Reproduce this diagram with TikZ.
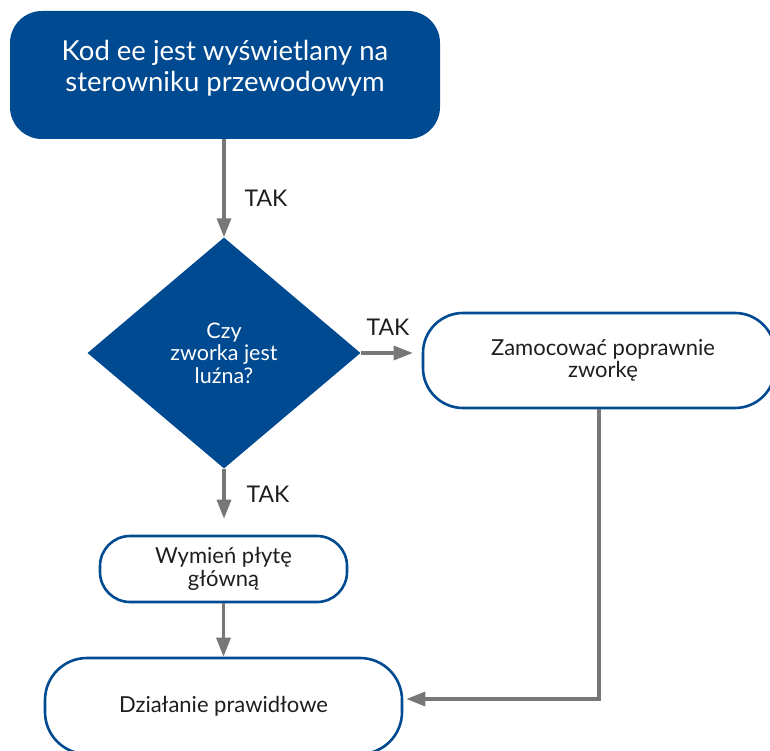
\documentclass[tikz,border=0pt]{standalone}
\usepackage{fontspec}
\setmainfont{Lato}
\usetikzlibrary{arrows.meta,shapes.geometric,calc}
\definecolor{brandblue}{HTML}{004A91}
\definecolor{linkgray}{HTML}{777777}
\definecolor{inkdark}{HTML}{1E1E1E}

\begin{document}
\begin{tikzpicture}[x=1pt,y=-1pt,
  headbox/.style={draw=none, fill=brandblue, rounded corners=32pt,
    minimum width=430pt, minimum height=128pt, inner sep=0pt},
  headtext/.style={text=white, align=center, inner sep=0pt,
    font=\fontsize{27.5}{31}\selectfont},
  stepbox/.style={draw=brandblue, line width=2.6pt, fill=white,
    rounded corners=#1, inner sep=0pt, align=center, text=inkdark,
    font=\fontsize{22}{22.5}\selectfont},
  decision/.style={diamond, fill=brandblue, draw=none, inner sep=0pt,
    minimum width=273pt, minimum height=231pt, align=center, text=white,
    font=\fontsize{21.5}{22.5}\selectfont},
  conn/.style={draw=linkgray, line width=3.2pt,
    -{Triangle[length=19pt,width=14pt]}},
  yeslabel/.style={inner sep=0pt, text=inkdark,
    font=\fontsize{23}{23}\selectfont}
]
\useasboundingbox (0,0) rectangle (770,751);
\clip (0,0) rectangle (770,751);

% start box
\node[headbox] (start) at (225,75) {};
\node[headtext] (starttext) at (225,68) {Kod ee jest wyświetlany na\\sterowniku przewodowym};

% decision
\node[decision] (q) at (224,353) {Czy\\zworka jest\\luźna?};

% actions
\node[stepbox=40pt, minimum width=352pt, minimum height=95pt] (fix) at (599,360.5)
  {\hspace*{8pt}Zamocować poprawnie\\\hspace*{8pt}zworkę};
\node[stepbox=30pt, minimum width=247pt, minimum height=66pt] (swap) at (223.5,569)
  {Wymień płytę\\główną};
\node[stepbox=42pt, minimum width=357pt, minimum height=96pt] (done) at (223.5,706)
  {Działanie prawidłowe};

% connectors
\draw[conn] (start.south -| q.north) -- (q.north);
\draw[conn, shorten >=9pt] (q.east) -- (q.east -| fix.west);
\draw[conn, shorten >=16pt] (q.south) -- (q.south |- swap.north);
\draw[conn] (swap.south -| done.north) -- (done.north);
\coordinate (doneport) at ($(done.east)+(0,-7)$);
\draw[conn, shorten >=3pt] (fix.south) |- (doneport);

% branch labels
\node[yeslabel] (tak1) at (266,198) {TAK};
\node[yeslabel] (tak2) at (388,327) {TAK};
\node[yeslabel] (tak3) at (268,494) {TAK};
\end{tikzpicture}
\end{document}
